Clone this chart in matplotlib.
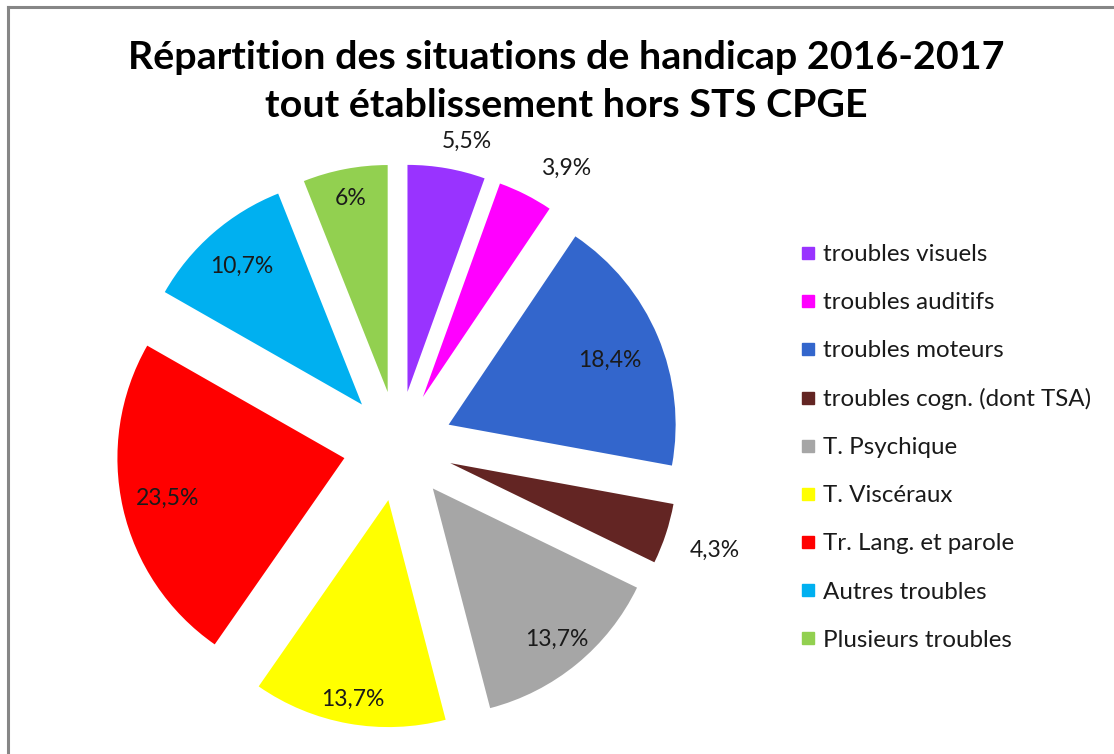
import numpy as np
import matplotlib
matplotlib.use("Agg")
import matplotlib.pyplot as plt
from matplotlib.lines import Line2D

categories = ["troubles visuels", "troubles auditifs", "troubles moteurs",
              "troubles cogn. (dont TSA)", "T. Psychique", "T. Viscéraux",
              "Tr. Lang. et parole", "Autres troubles", "Plusieurs troubles"]
values = [5.5, 3.9, 18.4, 4.3, 13.7, 13.7, 23.5, 10.7, 6]
colors = ["#9933FF", "#FF00FF", "#3366CC", "#632523", "#A6A6A6",
          "#FFFF00", "#FF0000", "#00B0F0", "#92D050"]
# label placement (radius units from pie centre, angular nudge in degrees)
label_dist = [1.378, 1.43, 1.005, 1.47, 1.10, 1.135, 1.04, 1.05, 1.11]
label_turn = [-2.8, -4.2, -0.8, 0, 0, 0, 0, 0, 0]
title = "Répartition des situations de handicap 2016-2017\ntout établissement hors STS CPGE"

plt.rcParams['font.family'] = ['Lato', 'DejaVu Sans']

W, H = 1114, 754
fig = plt.figure(figsize=(W / 100, H / 100), dpi=100)
fig.patch.set_facecolor("white")

# pie placement in pixels
cx, cy, R = 398, 446, 227
half = 300
ax = fig.add_axes([(cx - half) / W, (H - cy - half) / H, 2 * half / W, 2 * half / H])
wedges, _ = ax.pie(values, colors=colors, startangle=90, counterclock=False,
                   explode=[0.242] * len(values), radius=1.0,
                   wedgeprops=dict(linewidth=0))
lim = half / R
ax.set_xlim(-lim, lim)
ax.set_ylim(-lim, lim)
ax.set_aspect("equal")
ax.axis("off")

for w, v, d, t in zip(wedges, values, label_dist, label_turn):
    ang = np.deg2rad((w.theta1 + w.theta2) / 2 + t)
    txt = f"{v:g}".replace(".", ",") + "%"
    ax.text(d * np.cos(ang), d * np.sin(ang), txt, ha="center", va="center",
            fontsize=16.5, color="#1a1a1a")

fig.text(566 / W, 1 - 81.5 / H, title, ha="center", va="center",
         fontsize=28.4, fontweight="bold", color="black", linespacing=1.43)

handles = [Line2D([0], [0], marker="s", linestyle="", markersize=8,
                  markerfacecolor=c, markeredgecolor=c) for c in colors]
fig.legend(handles, categories, loc="upper left",
           bbox_to_anchor=(800 / W, 1 - 244 / H), frameon=False,
           fontsize=17.4, labelspacing=1.12, handlelength=0.65,
           handletextpad=0.3, borderpad=0, borderaxespad=0,
           labelcolor="#1a1a1a")

# chart area border (partial frame as seen in the screenshot)
fig.add_artist(Line2D([8 / W, 1], [1 - 6.5 / H, 1 - 6.5 / H], color="#868686",
                      linewidth=2.2, transform=fig.transFigure))
fig.add_artist(Line2D([8 / W, 8 / W], [0, 1 - 6.5 / H], color="#868686",
                      linewidth=2.2, transform=fig.transFigure))

fig.savefig("out.png", dpi=100, facecolor="white")
